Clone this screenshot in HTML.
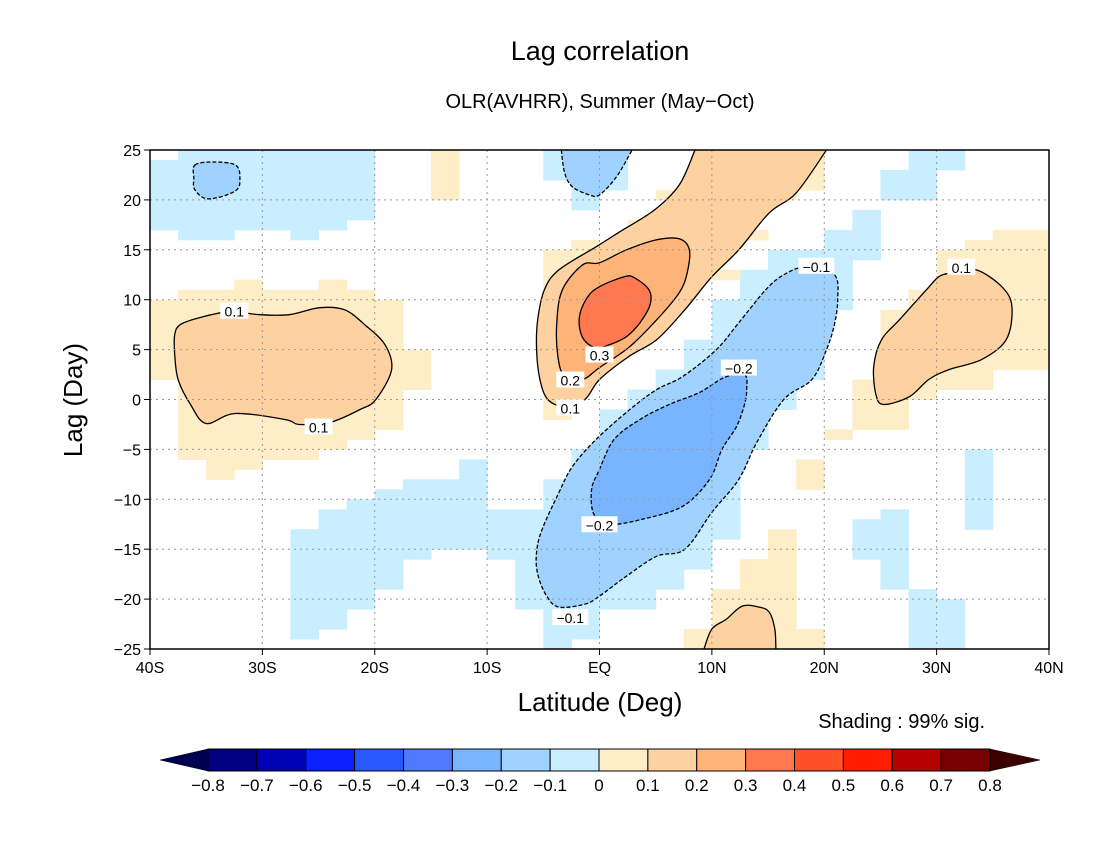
<!DOCTYPE html>
<html><head><meta charset="utf-8"><style>
body{margin:0;background:#fff;}
svg text{font-family:"Liberation Sans",sans-serif;}
</style></head><body>
<svg id="chart" width="1100" height="850" viewBox="0 0 1100 850" xmlns="http://www.w3.org/2000/svg">
<rect width="1100" height="850" fill="#fff"/>
<text x="600" y="60" text-anchor="middle" font-size="27" fill="#000">Lag correlation</text>
<text x="600" y="108" text-anchor="middle" font-size="20" fill="#000">OLR(AVHRR), Summer (May−Oct)</text>
<g id="plot"></g>
<text x="600" y="711" text-anchor="middle" font-size="26" fill="#000">Latitude (Deg)</text>
<text transform="translate(82,400) rotate(-90)" text-anchor="middle" font-size="26" fill="#000">Lag (Day)</text>
<text x="985" y="728" text-anchor="end" font-size="20" fill="#000">Shading : 99% sig.</text>
<g id="cbar"></g>
</svg>
<script>
const latTicks=[-40,-30,-20,-10,0,10,20,30,40];
const latTickLabels=["40S","30S","20S","10S","EQ","10N","20N","30N","40N"];
const lagTicks=[25,20,15,10,5,0,-5,-10,-15,-20,-25];
const levelColors={"-3":"#78b4ff","-2":"#a0d2ff","-1":"#c8eeff","1":"#feeec8","2":"#fed2a0","3":"#feb478","4":"#ff7850"};
// significance blocks: [lat0, lat1, lagBottom, lagTop, level]
const sigBlocks=[
 [-40,-37.5,17,24,-1],[-37.5,-32.5,16,25,-1],[-32.5,-27.5,17,25,-1],[-27.5,-25,16,25,-1],[-25,-22.5,17,25,-1],[-22.5,-20,18,25,-1],
 [-15,-12.5,20,25,1],
 [-5,-2.5,22,25,-1],[-2.5,0,19,25,-1],[0,2.5,21,25,-1],
 [-40,-37.5,2,10,1],[-37.5,-35,-6,11,1],[-35,-32.5,-8,11,1],[-32.5,-30,-7,12,1],[-30,-25,-6,11,1],[-25,-22.5,-5,12,1],[-22.5,-20,-4,11,1],[-20,-17.5,-3,10,1],[-17.5,-15,1,5,1],
 [-27.5,-25,-24,-13,-1],[-25,-22.5,-23,-11,-1],[-22.5,-20,-21,-10,-1],[-20,-17.5,-19,-9,-1],[-17.5,-15,-16,-8,-1],[-15,-12.5,-15,-8,-1],[-12.5,-10,-15,-6,-1],[-10,-7.5,-16,-11,-1],[-7.5,-5,-21,-11,-1],[-5,-2.5,-25,-8,-1],[-2.5,0,-24,-5,-1],
 [0,2.5,-21,-1,-1],[2.5,5,-21,1,-1],[5,7.5,-19,3,-1],[7.5,10,-17,6,-1],[10,12.5,-14,10,-1],[12.5,15,-5,13,-1],[15,17.5,-1,15,-1],[17.5,20,2,15,-1],[20,22.5,9,17,-1],[22.5,25,14,19,-1],[25,27.5,20,23,-1],[27.5,30,20,25,-1],[30,32.5,23,25,-1],
 [-5,-2.5,-2,15,1],[-2.5,0,2,16,1],[2.5,5,17,18,1],[5,7.5,20,21,1],[17.5,20,21,25,1],[15,17.5,20,21,1],[12.5,15,16,17,1],[10,12.5,12,13,1],
 [20,22.5,-4,-3,1],[22.5,25,-3,2,1],[25,27.5,-3,9,1],[27.5,30,0,11,1],[30,32.5,1,15,1],[32.5,35,1,16,1],[35,40,3,17,1],
 [17.5,20,-9,-6,1],
 [32.5,35,-13,-5,-1],[22.5,25,-16,-12,-1],[25,27.5,-19,-11,-1],[27.5,30,-25,-19,-1],[30,32.5,-25,-20,-1],
 [7.5,10,-25,-23,1],[10,12.5,-25,-19,1],[12.5,15,-25,-16,1],[15,17.5,-25,-13,1],[17.5,20,-25,-23,1]
];
// contours: points as [lat, lag]
const contLeftPos=[[-37.8,6.5],[-37.3,7.5],[-35.6,8.2],[-32.9,8.8],[-30.2,8.5],[-27.6,8.5],[-24.9,9.2],[-22.7,9.0],[-20.9,7.5],[-19.1,5.5],[-18.5,3.0],[-19.9,0],[-21.3,-1],[-24.0,-2.3],[-26.7,-2.5],[-28.0,-2],[-32.4,-1.4],[-35.0,-2.4],[-36.4,-0.5],[-37.5,2],[-37.8,4.5]];
const contCenter01=[[8.5,25],[7.1,21.5],[4.9,19],[1.8,16.8],[-0.3,15.3],[-3.6,13],[-4.9,11],[-5.5,8],[-5.6,5],[-5.3,2],[-4.6,0],[-3.1,-0.7],[-1.3,0],[0,2],[2.6,4.3],[5.1,6],[7.6,9],[10,12.3],[12.4,15],[15.1,18.7],[17.5,20.7],[20.2,25]];
const contCenter02=[[0,13.7],[2.4,15],[5.1,16],[7.1,16.1],[8,15],[7.8,12.7],[7.1,10.7],[5.1,8],[2.7,5.3],[0,3.2],[-1.5,2],[-3.1,2.3],[-3.7,4.3],[-3.8,7.7],[-3.3,11],[-1.5,13.5]];
const contCenter03=[[0,11.3],[2.2,12.3],[3.1,12.2],[4.4,11],[4.5,9.5],[3.6,7.7],[2.4,6.3],[0.9,5.5],[-0.4,5.2],[-1.5,6.2],[-1.8,8.2],[-1.1,10.2]];
const contNeg01=[[18.4,13.3],[20.9,12.5],[21.2,10],[20.9,7.5],[20.2,5],[18.9,2],[16.4,0],[14,-4.3],[12.4,-8],[10,-11.3],[7.6,-15],[5.1,-15.7],[2.4,-17.7],[0,-19.7],[-1.3,-20.5],[-3.6,-20.8],[-4.7,-19.7],[-5.5,-17.5],[-5.6,-15.3],[-5.1,-13],[-3.6,-9.3],[-2.4,-6.7],[-0.3,-4],[2.7,-1],[5.1,1],[7.4,2.3],[10.4,5],[12.4,7.7],[14.8,11],[16.4,12.5]];
const contNeg02=[[12.9,2.5],[13.1,1],[12.9,-0.5],[12.2,-2.7],[10.9,-5],[9.8,-8],[7.4,-10.7],[3.8,-12],[0.9,-12.5],[-0.5,-11.5],[-0.7,-9],[0,-7],[1.3,-4],[3.6,-2],[6.2,-0.5],[8.9,0.7],[11.1,2.2]];
const contRightPos=[[31.4,12.7],[33.5,13],[35.8,11.3],[36.7,9.3],[36.2,6],[34,4],[31.1,3],[29.3,2],[27.6,0.3],[25.3,-0.5],[24.6,0.5],[24.4,3.3],[25.1,6],[26.7,8],[29.1,11],[30.2,12.3]];
const contBottomPos=[[9.3,-25],[10,-23],[11.3,-22],[12.7,-20.7],[14.2,-20.8],[15.1,-21.3],[15.6,-23],[15.7,-25]];
const contSmallNeg=[[-36,23.5],[-34.4,23.8],[-32.4,23.5],[-32,22.2],[-32.4,20.9],[-34.8,20.1],[-36,21],[-36.1,22.2]];
const contTopNeg=[[-3.4,25],[-3.1,22.7],[-2.4,21.3],[-0.9,20.5],[0,20.5],[1.5,22.3],[2.9,25]];
const contLabels=[["0.1",-32.5,8.9],["0.1",-25,-2.7],["0.1",-2.6,-0.8],["0.2",-2.6,2],["0.3",0,4.5],["0.1",32.2,13.3],["-0.1",19.3,13.4],["-0.2",12.4,3.2],["-0.2",0,-12.5],["-0.1",-2.6,-21.8]];
const cbarLevels=["-0.8","-0.7","-0.6","-0.5","-0.4","-0.3","-0.2","-0.1","0","0.1","0.2","0.3","0.4","0.5","0.6","0.7","0.8"];
const cbarColors=["#000050","#000080","#0000b4","#0a20ff","#2a58ff","#5078ff","#78b4ff","#a0d2ff","#c8eeff","#feeec8","#fed2a0","#feb478","#ff7850","#ff5028","#ff1e00","#b40000","#780000","#3c0000"];

const NS="http://www.w3.org/2000/svg";
const X0=150,X1=1049,Y0=150,Y1=649;
const xs=lat=>X0+(lat+40)/80*(X1-X0);
const ys=lag=>Y0+(25-lag)/50*(Y1-Y0);
const plot=document.getElementById('plot');
function mk(tag,attrs,parent){const e=document.createElementNS(NS,tag);for(const k in attrs)e.setAttribute(k,attrs[k]);(parent||plot).appendChild(e);return e;}
const clip=mk('clipPath',{id:'pc'});mk('rect',{x:X0,y:Y0,width:X1-X0,height:Y1-Y0},clip);
const g=mk('g',{'clip-path':'url(#pc)'});

sigBlocks.forEach(b=>{
 const r=mk('rect',{x:xs(b[0]),y:ys(b[3]),width:xs(b[1])-xs(b[0])+0.5,height:ys(b[2])-ys(b[3])+0.5,fill:levelColors[b[4]]},g);
 
 
});
function smooth(pts,closed){
 const P=pts.map(p=>[xs(p[0]),ys(p[1])]);const n=P.length;
 let d='M'+P[0][0].toFixed(1)+','+P[0][1].toFixed(1);
 const last=closed?n:n-1;
 for(let i=0;i<last;i++){
  const p0=P[closed?(i-1+n)%n:Math.max(i-1,0)],p1=P[i],p2=P[(i+1)%n],p3=P[closed?(i+2)%n:Math.min(i+2,n-1)];
  const c1=[p1[0]+(p2[0]-p0[0])/6,p1[1]+(p2[1]-p0[1])/6],c2=[p2[0]-(p3[0]-p1[0])/6,p2[1]-(p3[1]-p1[1])/6];
  d+='C'+c1.map(v=>v.toFixed(1))+' '+c2.map(v=>v.toFixed(1))+' '+p2.map(v=>v.toFixed(1));
 }
 return d+(closed?'Z':'');
}
function region(pts,closed,fill,dashed,name){
 let d=smooth(pts,closed);
 if(fill){const f=mk('path',{d:closed?d:d+'Z',fill:fill,stroke:'none'},g);
  
  }
 const l=mk('path',{d:d,fill:'none',stroke:'#000','stroke-width':1.3,'stroke-dasharray':dashed?'4,2':'none'},g);
 
 
}
region(contSmallNeg,true,levelColors["-2"],true,'contour-neg-small');
region(contTopNeg,false,levelColors["-2"],true,'contour-neg-top');
region(contNeg01,true,levelColors["-2"],true,'contour-neg-0p1');
region(contNeg02,true,levelColors["-3"],true,'contour-neg-0p2');
region(contLeftPos,true,levelColors["2"],false,'contour-pos-left');
region(contCenter01,false,levelColors["2"],false,'contour-pos-0p1');
region(contCenter02,true,levelColors["3"],false,'contour-pos-0p2');
region(contCenter03,true,levelColors["4"],false,'contour-pos-0p3');
region(contRightPos,true,levelColors["2"],false,'contour-pos-right');
region(contBottomPos,false,levelColors["2"],false,'contour-pos-bottom');

// grid
latTicks.slice(1,-1).forEach(t=>{const l=mk('line',{x1:xs(t),x2:xs(t),y1:Y0,y2:Y1,stroke:'#999','stroke-dasharray':'2,4'});
 
 });
lagTicks.slice(1,-1).forEach(t=>{const l=mk('line',{x1:X0,x2:X1,y1:ys(t),y2:ys(t),stroke:'#999','stroke-dasharray':'2,4'});
 
 });
contLabels.forEach(c=>{
 const x=xs(c[1]),y=ys(c[2]);const w=c[0].length*8+4;
 mk('rect',{x:x-w/2,y:y-8,width:w,height:16,fill:'#fff'});
 const t=mk('text',{x:x,y:y+6,'text-anchor':'middle','font-size':14,fill:'#000'});t.textContent=c[0].replace('-','−');
 
 
});
const frame=mk('rect',{x:X0,y:Y0,width:X1-X0,height:Y1-Y0,fill:'none',stroke:'#000','stroke-width':1.5});


latTicks.forEach((t,i)=>{
 mk('line',{x1:xs(t),x2:xs(t),y1:Y1,y2:Y1+6,stroke:'#000'});
 const tx=mk('text',{x:xs(t),y:Y1+24,'text-anchor':'middle','font-size':16,fill:'#000'});tx.textContent=latTickLabels[i];
 
 
});
lagTicks.forEach(t=>{
 mk('line',{x1:X0-6,x2:X0,y1:ys(t),y2:ys(t),stroke:'#000'});
 const tx=mk('text',{x:X0-9,y:ys(t)+6,'text-anchor':'end','font-size':16,fill:'#000'});tx.textContent=String(t).replace('-','−');
 
 
});
// colorbar
const cb=document.getElementById('cbar');
const CB0=208,CB1=990,CBY=749,CBH=22,bw=(CB1-CB0)/16;
mk('polygon',{points:`160,${CBY+CBH/2} ${CB0},${CBY} ${CB0},${CBY+CBH}`,fill:cbarColors[0],stroke:'#000','stroke-width':0.5},cb);
mk('polygon',{points:`1040,${CBY+CBH/2} ${CB1},${CBY} ${CB1},${CBY+CBH}`,fill:cbarColors[17],stroke:'#000','stroke-width':0.5},cb);
for(let i=0;i<16;i++){
 const r=mk('rect',{x:CB0+i*bw,y:CBY,width:bw,height:CBH,fill:cbarColors[i+1],stroke:'#000','stroke-width':1},cb);
 
 
}
cbarLevels.forEach((v,i)=>{
 const t=mk('text',{x:CB0+i*bw,y:791,'text-anchor':'middle','font-size':17,fill:'#000'},cb);t.textContent=v.replace('-','−');
 
 
});
</script>
</body></html>
